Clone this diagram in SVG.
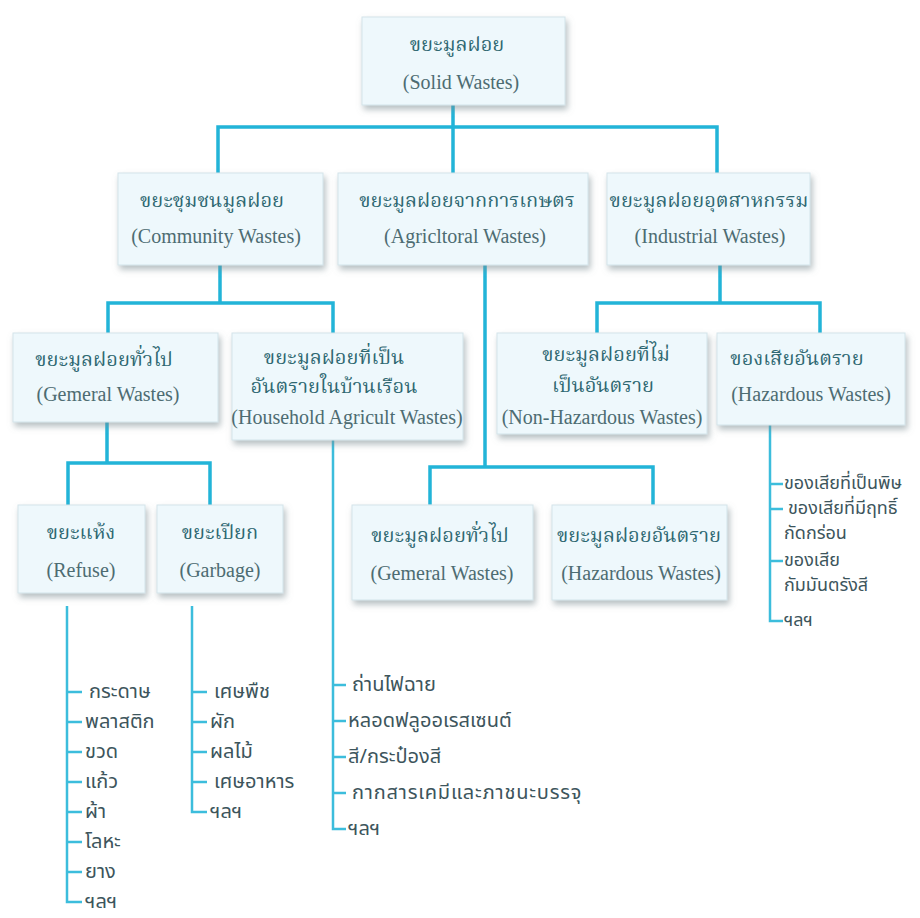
<svg xmlns="http://www.w3.org/2000/svg" width="920" height="918" viewBox="0 0 920 918">
<defs>
<filter id="sh" x="-10%" y="-10%" width="125%" height="135%">
<feDropShadow dx="2" dy="4" stdDeviation="3" flood-color="#7a8a90" flood-opacity="0.55"/>
</filter>
<style>
.box{fill:#eef8fc;stroke:#d3e4ea;stroke-width:1;filter:url(#sh)}
.th{font-family:"Noto Serif Thai","Norasi","Garuda","Loma","Noto Sans Thai","DejaVu Sans",sans-serif;font-size:20px;fill:#2f6872;text-anchor:middle}
.en{font-family:"Liberation Serif","Times New Roman",serif;font-size:20px;fill:#4d6c72;text-anchor:middle}
.lf{font-family:"Noto Sans Thai","Loma","Garuda","Tlwg Typo","DejaVu Sans",sans-serif;font-size:20px;fill:#3d555c}
.hz{font-size:18px}
.c{fill:none;stroke:#22b4d8;stroke-width:3.5;stroke-linecap:square}
.l{fill:none;stroke:#3cbddc;stroke-width:2.5}
</style>
</defs>
<rect width="920" height="918" fill="#ffffff"/>

<g id="connectors">
<path class="c" d="M453 105 V127 M218 127 H717 M218 127 V173 M453 127 V173 M717 127 V173"/>
<path class="c" d="M220 265 V303 M108 303 H333 M108 303 V333 M333 303 V333"/>
<path class="c" d="M720 265 V303 M597 303 H820 M597 303 V333 M820 303 V333"/>
<path class="c" d="M485 265 V467 M430 467 H653 M430 467 V503 M653 467 V503"/>
<path class="c" d="M107 422 V463 M68 463 H210 M68 463 V505 M210 463 V505"/>
<path class="l" d="M67 606 V902 H82 M67 692 H82 M67 722 H82 M67 752 H82 M67 782 H82 M67 812 H82 M67 842 H82 M67 872 H82"/>
<path class="l" d="M192 606 V812 H207 M192 692 H207 M192 722 H207 M192 752 H207 M192 782 H207"/>
<path class="l" d="M333 440 V829 H346 M333 685 H346 M333 721 H346 M333 757 H346 M333 793 H346"/>
<path class="l" d="M770 425 V621 H783 M770 484 H783 M770 509 H783 M770 561 H783"/>
</g>

<g id="n-solid">
<rect class="box" x="362" y="17" width="203" height="88"/>
<text class="th" x="457" y="51">ขยะมูลฝอย</text>
<text class="en" x="461" y="89">(Solid Wastes)</text>
</g>

<g id="n-community">
<rect class="box" x="118" y="173" width="205" height="92"/>
<text class="th" x="212" y="207">ขยะชุมชนมูลฝอย</text>
<text class="en" x="216" y="243">(Community Wastes)</text>
</g>

<g id="n-agri">
<rect class="box" x="338" y="173" width="250" height="92"/>
<text class="th" x="467" y="207">ขยะมูลฝอยจากการเกษตร</text>
<text class="en" x="465" y="243">(Agricltoral Wastes)</text>
</g>

<g id="n-industrial">
<rect class="box" x="607" y="173" width="203" height="92"/>
<text class="th" x="709" y="207" font-size="19">ขยะมูลฝอยอุตสาหกรรม</text>
<text class="en" x="710" y="243">(Industrial Wastes)</text>
</g>

<g id="n-general">
<rect class="box" x="13" y="333" width="205" height="89"/>
<text class="th" x="104" y="366">ขยะมูลฝอยทั่วไป</text>
<text class="en" x="108" y="401">(Gemeral Wastes)</text>
</g>

<g id="n-household">
<rect class="box" x="232" y="333" width="231" height="107"/>
<text class="th" x="334" y="364">ขยะมูลฝอยที่เป็น</text>
<text class="th" x="334" y="393">อันตรายในบ้านเรือน</text>
<text class="en" x="347" y="424">(Household Agricult Wastes)</text>
</g>

<g id="n-nonhaz">
<rect class="box" x="497" y="333" width="210" height="101"/>
<text class="th" x="606" y="361">ขยะมูลฝอยที่ไม่</text>
<text class="th" x="603" y="392">เป็นอันตราย</text>
<text class="en" x="602" y="424">(Non-Hazardous Wastes)</text>
</g>

<g id="n-haz">
<rect class="box" x="717" y="333" width="188" height="92"/>
<text class="th" x="797" y="365">ของเสียอันตราย</text>
<text class="en" x="811" y="401">(Hazardous Wastes)</text>
</g>

<g id="n-refuse">
<rect class="box" x="18" y="505" width="127" height="88"/>
<text class="th" x="81" y="539">ขยะแห้ง</text>
<text class="en" x="81" y="577">(Refuse)</text>
</g>

<g id="n-garbage">
<rect class="box" x="157" y="505" width="126" height="88"/>
<text class="th" x="220" y="539">ขยะเปียก</text>
<text class="en" x="220" y="577">(Garbage)</text>
</g>

<g id="n-general2">
<rect class="box" x="352" y="505" width="181" height="95"/>
<text class="th" x="440" y="542">ขยะมูลฝอยทั่วไป</text>
<text class="en" x="442" y="580">(Gemeral Wastes)</text>
</g>

<g id="n-haz2">
<rect class="box" x="552" y="505" width="175" height="95"/>
<text class="th" x="639" y="542">ขยะมูลฝอยอันตราย</text>
<text class="en" x="641" y="580">(Hazardous Wastes)</text>
</g>

<g id="leaves-refuse">
<text class="lf" x="89" y="698">กระดาษ</text>
<text class="lf" x="85" y="728">พลาสติก</text>
<text class="lf" x="85" y="758">ขวด</text>
<text class="lf" x="85" y="788">แก้ว</text>
<text class="lf" x="85" y="818">ผ้า</text>
<text class="lf" x="85" y="848">โลหะ</text>
<text class="lf" x="85" y="878">ยาง</text>
<text class="lf" x="85" y="908">ฯลฯ</text>
</g>

<g id="leaves-garbage">
<text class="lf" x="214" y="698">เศษพืช</text>
<text class="lf" x="210" y="728">ผัก</text>
<text class="lf" x="210" y="758">ผลไม้</text>
<text class="lf" x="214" y="788">เศษอาหาร</text>
<text class="lf" x="210" y="818">ฯลฯ</text>
</g>

<g id="leaves-household">
<text class="lf" x="352" y="691">ถ่านไฟฉาย</text>
<text class="lf" x="348" y="727">หลอดฟลูออเรสเซนต์</text>
<text class="lf" x="348" y="763">สี/กระป๋องสี</text>
<text class="lf" x="352" y="799" letter-spacing="0.8">กากสารเคมีและภาชนะบรรจุ</text>
<text class="lf" x="348" y="835">ฯลฯ</text>
</g>

<g id="leaves-haz">
<text class="lf hz" x="784" y="489">ของเสียที่เป็นพิษ</text>
<text class="lf hz" x="788" y="514">ของเสียที่มีฤทธิ์</text>
<text class="lf hz" x="784" y="539">กัดกร่อน</text>
<text class="lf hz" x="784" y="566">ของเสีย</text>
<text class="lf hz" x="784" y="591">กัมมันตรังสี</text>
<text class="lf hz" x="784" y="626">ฯลฯ</text>
</g>
</svg>
